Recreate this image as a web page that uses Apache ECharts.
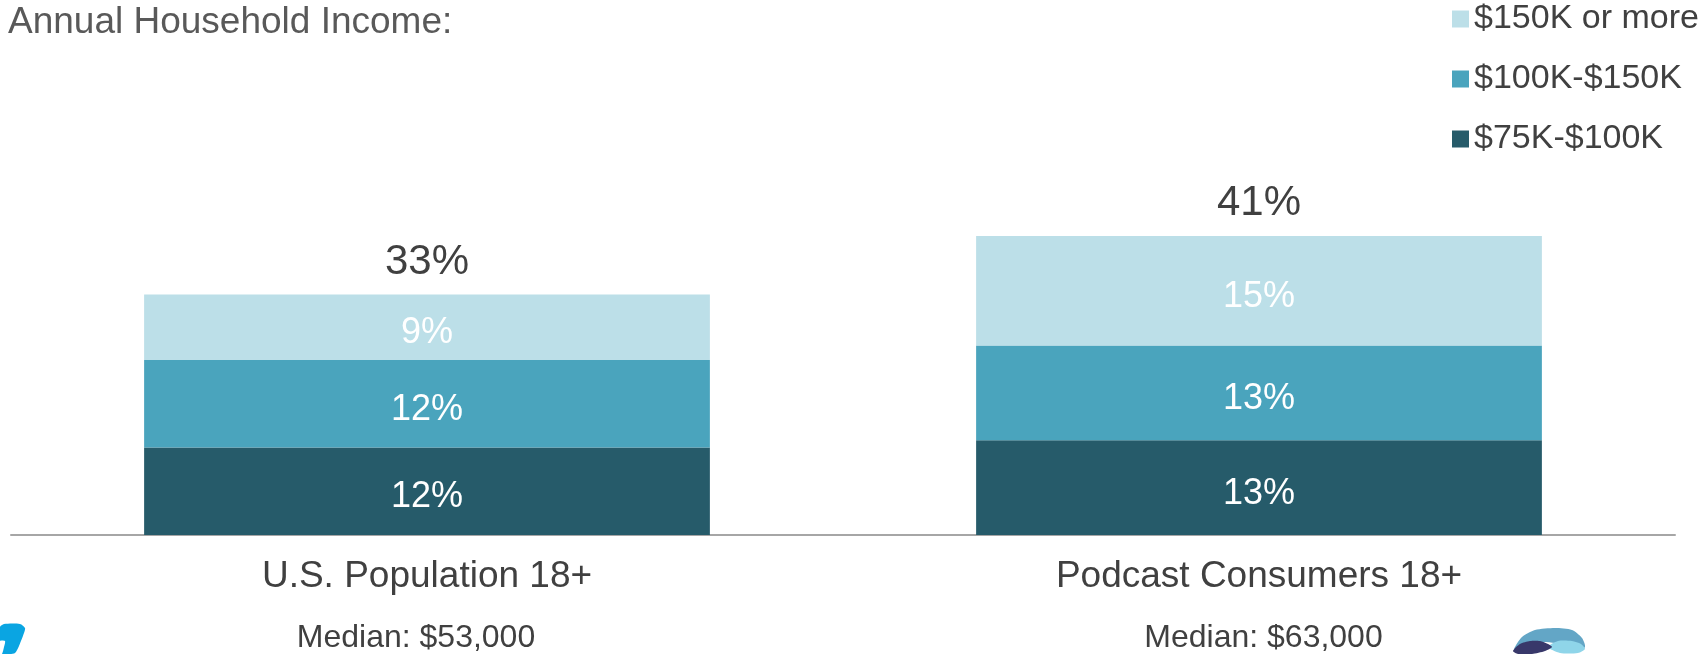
<!DOCTYPE html>
<html>
<head>
<meta charset="utf-8">
<script src="https://cdn.jsdelivr.net/npm/echarts@6/dist/echarts.min.js"></script>
<style>
  html, body { margin: 0; padding: 0; background: #ffffff; }
  #chart { width: 1702px; height: 654px; }
</style>
</head>
<body>
<div id="chart"></div>
<script>
// Audience groups and their median household income
const categories = ['U.S. Population 18+', 'Podcast Consumers 18+'];
const medians = ['Median: $53,000', 'Median: $63,000'];

// Share of each group by income bracket (%)
const income75to100 = [12, 13];
const income100to150 = [12, 13];
const income150plus = [9, 15];

// Combined share at $75K and above
const totals = categories.map((_, i) => income75to100[i] + income100to150[i] + income150plus[i]);

const FONT = "'Liberation Sans', Arial, sans-serif";
const TEXT = '#404040';

const segLabel = {
  show: true,
  position: 'inside',
  offset: [0, 6],
  color: '#ffffff',
  fontSize: 36,
  fontFamily: FONT,
  formatter: '{c}%'
};

function logoPart(points, fill) {
  return { type: 'polygon', silent: true, shape: { points: points, smooth: 0.25 }, style: { fill: fill } };
}

const chart = echarts.init(document.getElementById('chart'), null, { renderer: 'canvas' });

chart.setOption({
  animation: false,
  backgroundColor: '#ffffff',
  title: {
    text: 'Annual Household Income:',
    left: 8,
    top: 4,
    padding: 0,
    textStyle: { fontSize: 37, fontWeight: 'normal', color: '#595959', fontFamily: FONT, lineHeight: 37 }
  },
  legend: {
    orient: 'vertical',
    left: 1452,
    top: 2,
    padding: 0,
    itemWidth: 17,
    itemHeight: 17,
    itemGap: 26,
    icon: 'rect',
    data: ['$150K or more', '$100K-$150K', '$75K-$100K'],
    textStyle: { fontSize: 34, lineHeight: 33, color: TEXT, fontFamily: FONT }
  },
  grid: { left: 11, right: 27, top: 170.5, bottom: 117, containLabel: false },
  xAxis: {
    type: 'category',
    data: categories,
    axisLine: { show: true, lineStyle: { color: '#a6a6a6', width: 2 } },
    axisTick: { show: false },
    axisLabel: {
      margin: 12,
      formatter: (value, idx) => '{a|' + value + '}\n{m' + idx + '|' + medians[idx] + '}',
      rich: {
        a: { fontSize: 37, lineHeight: 60, color: TEXT, fontFamily: FONT },
        m0: { fontSize: 32, lineHeight: 62, color: TEXT, fontFamily: FONT, padding: [0, 22, 0, 0] },
        m1: { fontSize: 32, lineHeight: 62, color: TEXT, fontFamily: FONT, padding: [0, 0, 0, 9] }
      }
    }
  },
  yAxis: { type: 'value', min: 0, max: 50, show: false },
  series: [
    {
      name: '$75K-$100K', type: 'bar', stack: 'income', barWidth: '68%',
      itemStyle: { color: '#265b6a' }, label: segLabel, data: income75to100
    },
    {
      name: '$100K-$150K', type: 'bar', stack: 'income',
      itemStyle: { color: '#4aa4bd' }, label: segLabel, data: income100to150
    },
    {
      name: '$150K or more', type: 'bar', stack: 'income',
      itemStyle: { color: '#bcdfe8' }, label: segLabel, data: income150plus
    },
    {
      // invisible anchor at each stack's total, carrying the total label
      name: 'Total', type: 'scatter', symbolSize: 1, silent: true,
      itemStyle: { color: 'rgba(0,0,0,0)', opacity: 1 },
      label: {
        show: true, position: 'top', distance: 11,
        fontSize: 42, color: TEXT, fontFamily: FONT, formatter: '{c}%'
      },
      data: totals
    }
  ],
  graphic: [
    // brand mark, lower left corner
    logoPart([[0, 627], [4, 624], [20, 624], [25, 628], [24, 633], [19, 646], [15, 653], [10, 654], [0, 654]], '#0aa5e2'),
    logoPart([[0, 641], [5, 641], [4, 647], [2, 654], [0, 654]], '#ffffff'),
    // brand mark, lower right
    logoPart([[1514, 649], [1522, 637], [1535, 630], [1555, 628], [1572, 630], [1582, 638], [1585, 647], [1578, 651],
              [1570, 648], [1555, 643], [1540, 642], [1526, 646], [1516, 651]], '#63a6c6'),
    logoPart([[1548, 647], [1558, 641], [1572, 641], [1581, 644], [1585, 649], [1578, 653], [1560, 653]], '#8fd5e9'),
    logoPart([[1513, 651], [1520, 644], [1530, 641], [1540, 641], [1548, 644], [1552, 647], [1545, 651], [1532, 654], [1518, 654]], '#38386a')
  ]
});
</script>
</body>
</html>
